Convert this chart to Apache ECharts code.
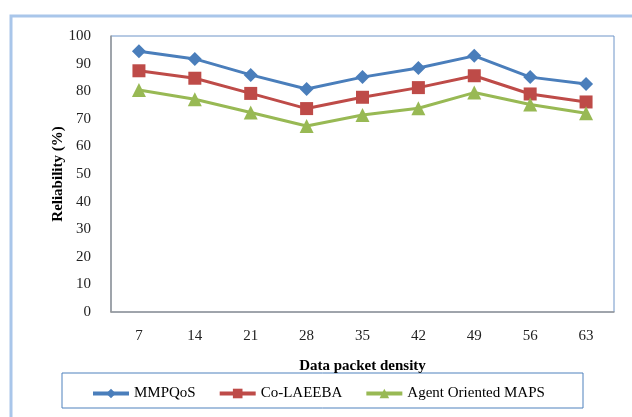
<!DOCTYPE html>
<html><head><meta charset="utf-8">
<script src="https://cdn.jsdelivr.net/npm/echarts@6/dist/echarts.min.js"></script>
<style>html,body{margin:0;padding:0;background:#fff}#c{width:632px;height:417px}</style>
</head><body><div id="c"></div>
<script>
const categories = ['7','14','21','28','35','42','49','56','63'];
const mmpqos = [94.5, 91.7, 85.9, 80.8, 85.1, 88.4, 92.8, 85.1, 82.6];
const colaeeba = [87.4, 84.7, 79.2, 73.7, 77.8, 81.3, 85.6, 79.0, 76.1];
const agentMaps = [80.4, 77.1, 72.3, 67.4, 71.4, 73.8, 79.5, 75.2, 72.0];
const seriesNames = ['MMPQoS', 'Co-LAEEBA', 'Agent Oriented MAPS'];
const yTitle = 'Reliability (%)';
const xTitle = 'Data packet density';

const font = 'Liberation Serif';
const chart = echarts.init(document.getElementById('c'), null, {renderer: 'canvas'});
function mk(name, data, color, symbol, size) {
  return {name, type: 'line', data, symbol, symbolSize: size,
    lineStyle: {color, width: 3}, itemStyle: {color}, z: 3};
}
chart.setOption({
  animation: false,
  graphic: [
    {type: 'rect', shape: {x: 11, y: 16, width: 640, height: 420},
     style: {fill: 'none', stroke: '#a9c6ea', lineWidth: 3}, z: 0},
    {type: 'rect', shape: {x: 62, y: 373, width: 521, height: 35},
     style: {fill: 'none', stroke: '#4f81bd', lineWidth: 1}, z: 0},
    {type: 'text', x: 58, y: 174, rotation: Math.PI / 2,
     style: {text: yTitle, fontFamily: font, fontWeight: 'bold', fontSize: 15, fill: '#000',
             align: 'center', verticalAlign: 'middle'}, z: 5}
  ],
  grid: {left: 111, right: 18, top: 36, bottom: 105, show: true, borderColor: '#6e95c8', borderWidth: 1},
  xAxis: {
    type: 'category', data: categories, boundaryGap: true,
    name: xTitle, nameLocation: 'middle', nameGap: 47,
    nameTextStyle: {fontFamily: font, fontWeight: 'bold', fontSize: 15, color: '#000'},
    axisLine: {lineStyle: {color: '#999', width: 1.5}}, axisTick: {show: false},
    axisLabel: {fontFamily: font, fontSize: 15, color: '#222', margin: 17}
  },
  yAxis: {
    type: 'value', min: 0, max: 100, interval: 10,
    axisLine: {show: true, lineStyle: {color: '#999', width: 1.5}}, axisTick: {show: false},
    splitLine: {show: false},
    axisLabel: {fontFamily: font, fontSize: 15, color: '#222', margin: 20}
  },
  legend: {
    top: 381, left: 86, itemGap: 22, itemWidth: 36, itemHeight: 12,
    lineStyle: {width: 4},
    textStyle: {fontFamily: font, fontSize: 15, color: '#000'},
    data: seriesNames
  },
  series: [
    mk(seriesNames[0], mmpqos, '#4a7ebb', 'diamond', 14),
    mk(seriesNames[1], colaeeba, '#be4b48', 'rect', 13),
    mk(seriesNames[2], agentMaps, '#98b954', 'triangle', 14)
  ]
});
</script></body></html>
